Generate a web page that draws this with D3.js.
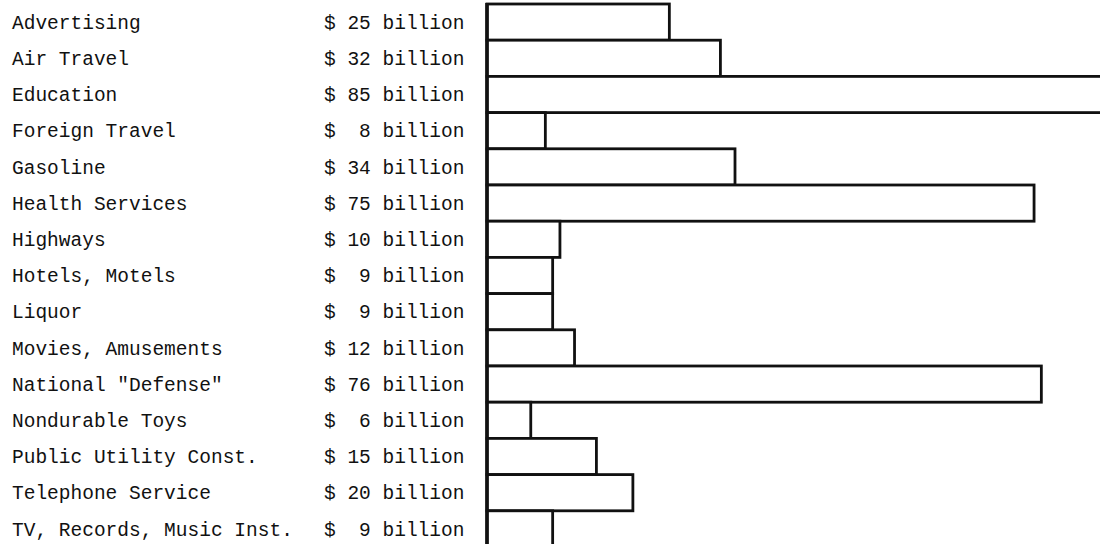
<!DOCTYPE html>
<html>
<head>
<meta charset="utf-8">
<script src="https://cdn.jsdelivr.net/npm/d3@7"></script>
<style>
  html, body { margin: 0; padding: 0; background: #fff; }
  svg { display: block; }
  text { font-family: "Liberation Mono", "Courier New", monospace; font-size: 19.5px; fill: #111; white-space: pre; }
</style>
</head>
<body>
<svg id="chart" width="1100" height="544"></svg>
<script>
// Annual U.S. spending by category, in billions of dollars
const categories = [
  "Advertising", "Air Travel", "Education", "Foreign Travel", "Gasoline",
  "Health Services", "Highways", "Hotels, Motels", "Liquor",
  "Movies, Amusements", "National \"Defense\"", "Nondurable Toys",
  "Public Utility Const.", "Telephone Service", "TV, Records, Music Inst."
];
const billions = [25, 32, 85, 8, 34, 75, 10, 9, 9, 12, 76, 6, 15, 20, 9];

const svg = d3.select("#chart");
const H = 544;

const x = d3.scaleLinear().domain([0, 85]).range([487, 1107]);
const y = d3.scaleBand().domain(categories).range([4, 547]).padding(0);

const rows = categories.map((c, i) => ({ name: c, value: billions[i] }));

// Bars: adjacent outlined boxes sharing borders
svg.append("g")
  .selectAll("rect")
  .data(rows)
  .join("rect")
  .attr("x", x(0))
  .attr("y", d => y(d.name))
  .attr("width", d => x(d.value) - x(0))
  .attr("height", y.bandwidth())
  .attr("fill", "#fff")
  .attr("stroke", "#111")
  .attr("stroke-width", 2.8);

// Baseline running down the left edge of the bars
svg.append("line")
  .attr("x1", x(0)).attr("x2", x(0))
  .attr("y1", y.range()[0] - 1).attr("y2", H)
  .attr("stroke", "#111").attr("stroke-width", 3.6);

// Category names
svg.append("g")
  .selectAll("text")
  .data(rows)
  .join("text")
  .attr("x", 12)
  .attr("y", d => y(d.name) + y.bandwidth() / 2)
  .attr("dy", "0.34em")
  .text(d => d.name);

// Dollar amounts
const fmt = v => "$ " + String(v).padStart(2, " ") + " billion";
svg.append("g")
  .selectAll("text")
  .data(rows)
  .join("text")
  .attr("x", 324)
  .attr("y", d => y(d.name) + y.bandwidth() / 2)
  .attr("dy", "0.34em")
  .text(d => fmt(d.value));
</script>
</body>
</html>
